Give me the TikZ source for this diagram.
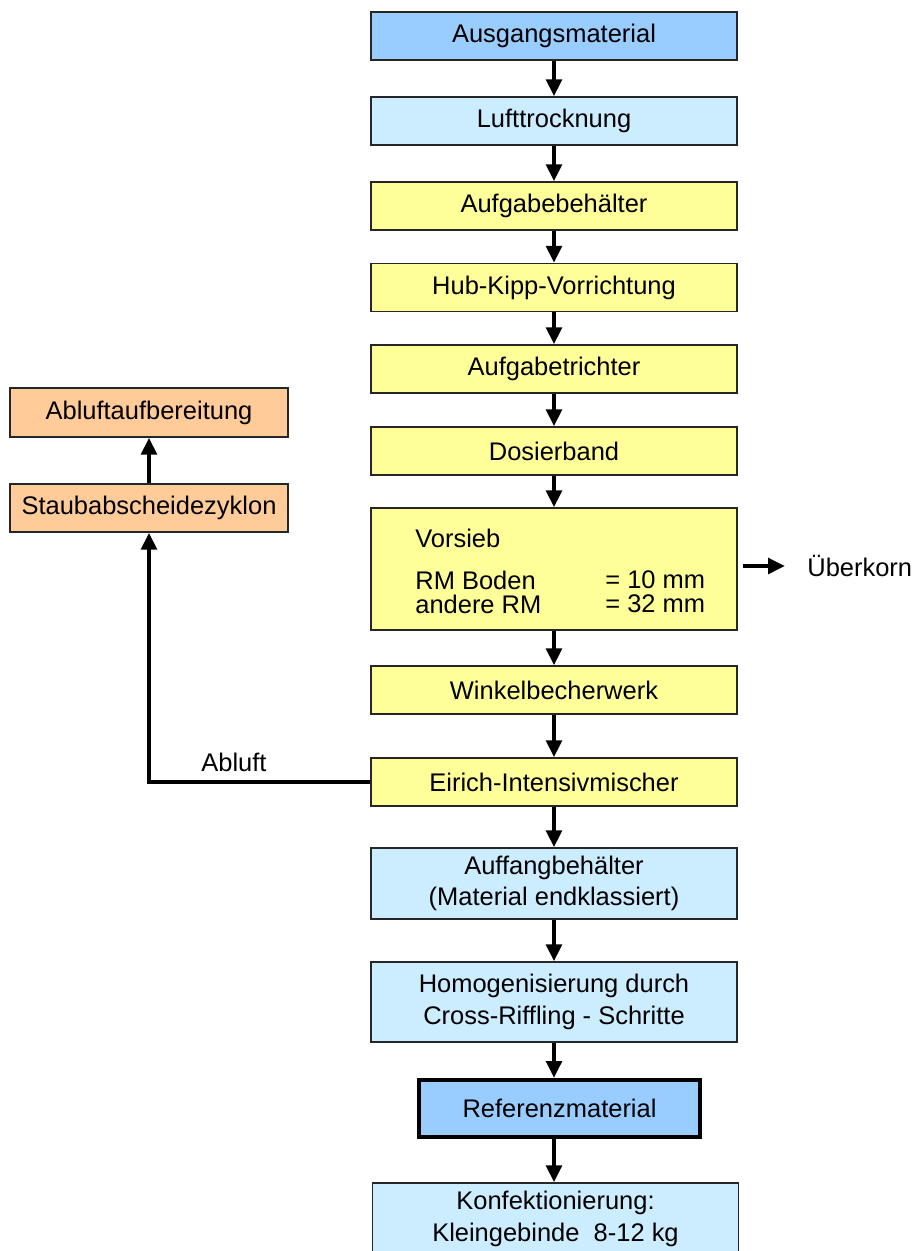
\documentclass[tikz,border=0pt]{standalone}
\usepackage{fontspec}
\setmainfont{Liberation Sans}
\usetikzlibrary{arrows.meta}
\definecolor{boxdark}{RGB}{153,204,255}
\definecolor{boxlight}{RGB}{204,236,255}
\definecolor{boxyellow}{RGB}{255,255,153}
\definecolor{boxorange}{RGB}{255,204,153}

\begin{document}
\begin{tikzpicture}[x=0.02cm,y=-0.02cm,
    box/.style={draw=black!85,line width=0.8pt,inner sep=0pt,minimum width=7.32cm,minimum height=0.96cm,align=center,font=\fontsize{14.5}{18}\selectfont},
    txt/.style={inner sep=0pt,font=\fontsize{14.5}{18}\selectfont},
    flow/.style={line width=2.3pt,-{Triangle[width=0.31cm,length=0.34cm]}}]
\useasboundingbox (0,0) rectangle (915,1251);
\node[box,fill=boxdark] (ausgang) at (554,36) {Ausgangsmaterial};
\node[box,fill=boxlight] (luft) at (554,121) {Lufttrocknung};
\node[box,fill=boxyellow] (aufgabe) at (554,206) {Aufgabebehälter};
\node[box,fill=boxyellow] (hubkipp) at (554,287.5) {Hub-Kipp-Vorrichtung};
\node[box,fill=boxyellow] (trichter) at (554,369) {Aufgabetrichter};
\node[box,fill=boxyellow] (dosier) at (554,451) {Dosierband};
\node[box,fill=boxyellow,minimum height=2.44cm] (vorsieb) at (554,569) {};
\node[txt,anchor=west] (vtitel) at (415,538) {Vorsieb};
\node[txt,anchor=west] (vboden) at (415,580) {RM Boden};
\node[txt,anchor=west] (vandere) at (415,604) {andere RM};
\node[txt,anchor=west] (vzehn) at (605,580) {= 10 mm};
\node[txt,anchor=west] (vzwei) at (605,604) {= 32 mm};
\node[txt,anchor=west] (ueberkorn) at (807,566) {Überkorn};
\node[box,fill=boxyellow] (winkel) at (554,690) {Winkelbecherwerk};
\node[box,fill=boxyellow] (eirich) at (554,782) {Eirich-Intensivmischer};
\node[box,fill=boxlight,minimum height=1.42cm] (auffang) at (554,883.5) {Auffangbehälter\\(Material endklassiert)};
\node[box,fill=boxlight,minimum height=1.6cm] (homog) at (554,1002) {Homogenisierung durch\\Cross-Riffling - Schritte};
\node[box,fill=boxdark,draw=black,line width=2.3pt,minimum width=5.62cm,minimum height=1.14cm] (referenz) at (559.5,1108.5) {Referenzmaterial};
\node[box,fill=boxlight,minimum height=1.44cm] (konf) at (555.5,1219) {Konfektionierung:\\Kleingebinde\ \ 8-12 kg};
\node[box,fill=boxorange,minimum width=5.56cm,minimum height=0.98cm] (abluftauf) at (149,412.5) {Abluftaufbereitung};
\node[box,fill=boxorange,minimum width=5.56cm,minimum height=0.96cm] (staub) at (149,508) {Staubabscheidezyklon};
\node[txt] (abluft) at (234,762) {Abluft};
\draw[flow] (ausgang) -- (luft);
\draw[flow] (luft) -- (aufgabe);
\draw[flow] (aufgabe) -- (hubkipp);
\draw[flow] (hubkipp) -- (trichter);
\draw[flow] (trichter) -- (dosier);
\draw[flow] (dosier) -- (vorsieb);
\draw[flow] (vorsieb) -- (winkel);
\draw[flow] (winkel) -- (eirich);
\draw[flow] (eirich) -- (auffang);
\draw[flow] (auffang) -- (homog);
\draw[flow] (homog.south) -- (homog.south |- referenz.north);
\draw[flow] (homog.south |- referenz.south) -- (homog.south |- konf.north);
\draw[flow] ([xshift=0.1cm]vorsieb.east |- ueberkorn.west) -- ([xshift=-0.44cm]ueberkorn.west);
\draw[flow] (eirich.west) -| (staub.south);
\draw[flow] (staub) -- (abluftauf);
\end{tikzpicture}
\end{document}
